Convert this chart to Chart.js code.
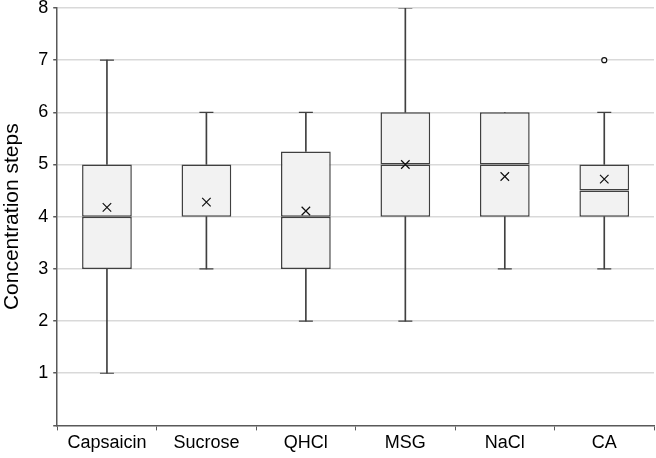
<!DOCTYPE html>
<html>
<head>
<meta charset="utf-8">
<script src="https://cdn.jsdelivr.net/npm/chart.js@4.4.1/dist/chart.umd.min.js"></script>
<style>
  html, body { margin: 0; padding: 0; background: #fff; }
  #wrap { width: 656px; height: 458px; }
</style>
</head>
<body>
<div id="wrap"><canvas id="chart"></canvas></div>
<script>
// box plot values
var labels = ['Capsaicin', 'Sucrose', 'QHCl', 'MSG', 'NaCl', 'CA'];
var mins    = [1, 3, 2, 2, 3, 3];
var q1      = [3, 4, 3, 4, 4, 4];
var medians = [4, 4, 4, 5, 5, 4.5];
var q3      = [5, 5, 5.25, 6, 6, 5];
var maxs    = [7, 6, 6, 8, 6, 6];
var means   = [4.18, 4.28, 4.11, 5.0, 4.77, 4.72];
var outliers = [null, null, null, null, null, 7];
var yTicks = [0, 1, 2, 3, 4, 5, 6, 7, 8];

var lineCol = '#404040';
var axisCol = '#595959';
var boxFill = '#f2f2f2';

Chart.defaults.font.family = 'Arial, "Liberation Sans", sans-serif';
Chart.defaults.color = '#000';

var ctx = document.getElementById('chart');

// no cap where the whisker has no length
var lowCaps = mins.map(function (v, i) { return v === q1[i] ? null : v; });
var highCaps = maxs.map(function (v, i) { return v === q3[i] ? null : v; });

new Chart(ctx, {
  type: 'bar',
  data: {
    labels: labels,
    datasets: [
      {
        // lower whisker
        data: labels.map(function (l, i) { return [mins[i], q1[i]]; }),
        backgroundColor: lineCol,
        barThickness: 1,
        grouped: false,
        order: 5
      },
      {
        // upper whisker
        data: labels.map(function (l, i) { return [q3[i], maxs[i]]; }),
        backgroundColor: lineCol,
        barThickness: 1,
        grouped: false,
        order: 5
      },
      {
        // lower half of box
        data: labels.map(function (l, i) { return [q1[i], medians[i]]; }),
        backgroundColor: boxFill,
        borderColor: lineCol,
        borderWidth: 1.5,
        borderSkipped: false,
        barPercentage: 0.5,
        categoryPercentage: 1,
        grouped: false,
        order: 3
      },
      {
        // upper half of box
        data: labels.map(function (l, i) { return [medians[i], q3[i]]; }),
        backgroundColor: boxFill,
        borderColor: lineCol,
        borderWidth: 1.5,
        borderSkipped: false,
        barPercentage: 0.5,
        categoryPercentage: 1,
        grouped: false,
        order: 3
      },
      {
        // whisker caps
        type: 'line',
        data: lowCaps,
        showLine: false,
        pointStyle: 'line',
        pointRadius: 7,
        pointHoverRadius: 7,
        borderColor: lineCol,
        pointBorderWidth: 1.2,
        order: 4
      },
      {
        type: 'line',
        data: highCaps,
        showLine: false,
        pointStyle: 'line',
        pointRadius: 7,
        pointHoverRadius: 7,
        borderColor: lineCol,
        pointBorderWidth: 1.2,
        order: 4
      },
      {
        // means
        type: 'line',
        data: means,
        showLine: false,
        pointStyle: 'crossRot',
        pointRadius: 6,
        pointHoverRadius: 6,
        borderColor: '#111',
        pointBorderWidth: 1.2,
        order: 1
      },
      {
        // outliers
        type: 'line',
        data: outliers,
        showLine: false,
        pointStyle: 'circle',
        pointRadius: 2.5,
        pointHoverRadius: 2.5,
        backgroundColor: '#fff',
        borderColor: '#111',
        pointBorderWidth: 1.2,
        order: 1
      }
    ]
  },
  options: {
    responsive: true,
    maintainAspectRatio: false,
    animation: false,
    layout: { autoPadding: false, padding: { top: 0, right: 2, left: 0, bottom: 2 } },
    plugins: {
      legend: { display: false },
      tooltip: { enabled: false }
    },
    scales: {
      x: {
        offset: true,
        grid: {
          offset: true,
          drawOnChartArea: false,
          drawTicks: true,
          tickLength: 5,
          tickColor: axisCol
        },
        border: { color: axisCol, width: 1.5 },
        ticks: { font: { size: 18 }, padding: 2 }
      },
      y: {
        min: 0,
        max: 8,
        afterBuildTicks: function (axis) {
          axis.ticks = yTicks.map(function (v) { return { value: v }; });
        },
        afterFit: function (axis) {
          axis.paddingTop = 8;
        },
        grid: {
          color: function (c) { return c.tick && c.tick.value === 0 ? 'rgba(0,0,0,0)' : '#d9d9d9'; },
          lineWidth: 1.5,
          tickLength: 4,
          tickColor: axisCol
        },
        border: { color: axisCol, width: 1.5 },
        ticks: {
          font: { size: 18 },
          padding: 5,
          callback: function (v) { return v === 0 ? '' : v; }
        },
        title: {
          display: true,
          text: 'Concentration steps',
          font: { size: 21 },
          padding: { top: 0, bottom: 8 }
        }
      }
    }
  }
});
</script>
</body>
</html>
